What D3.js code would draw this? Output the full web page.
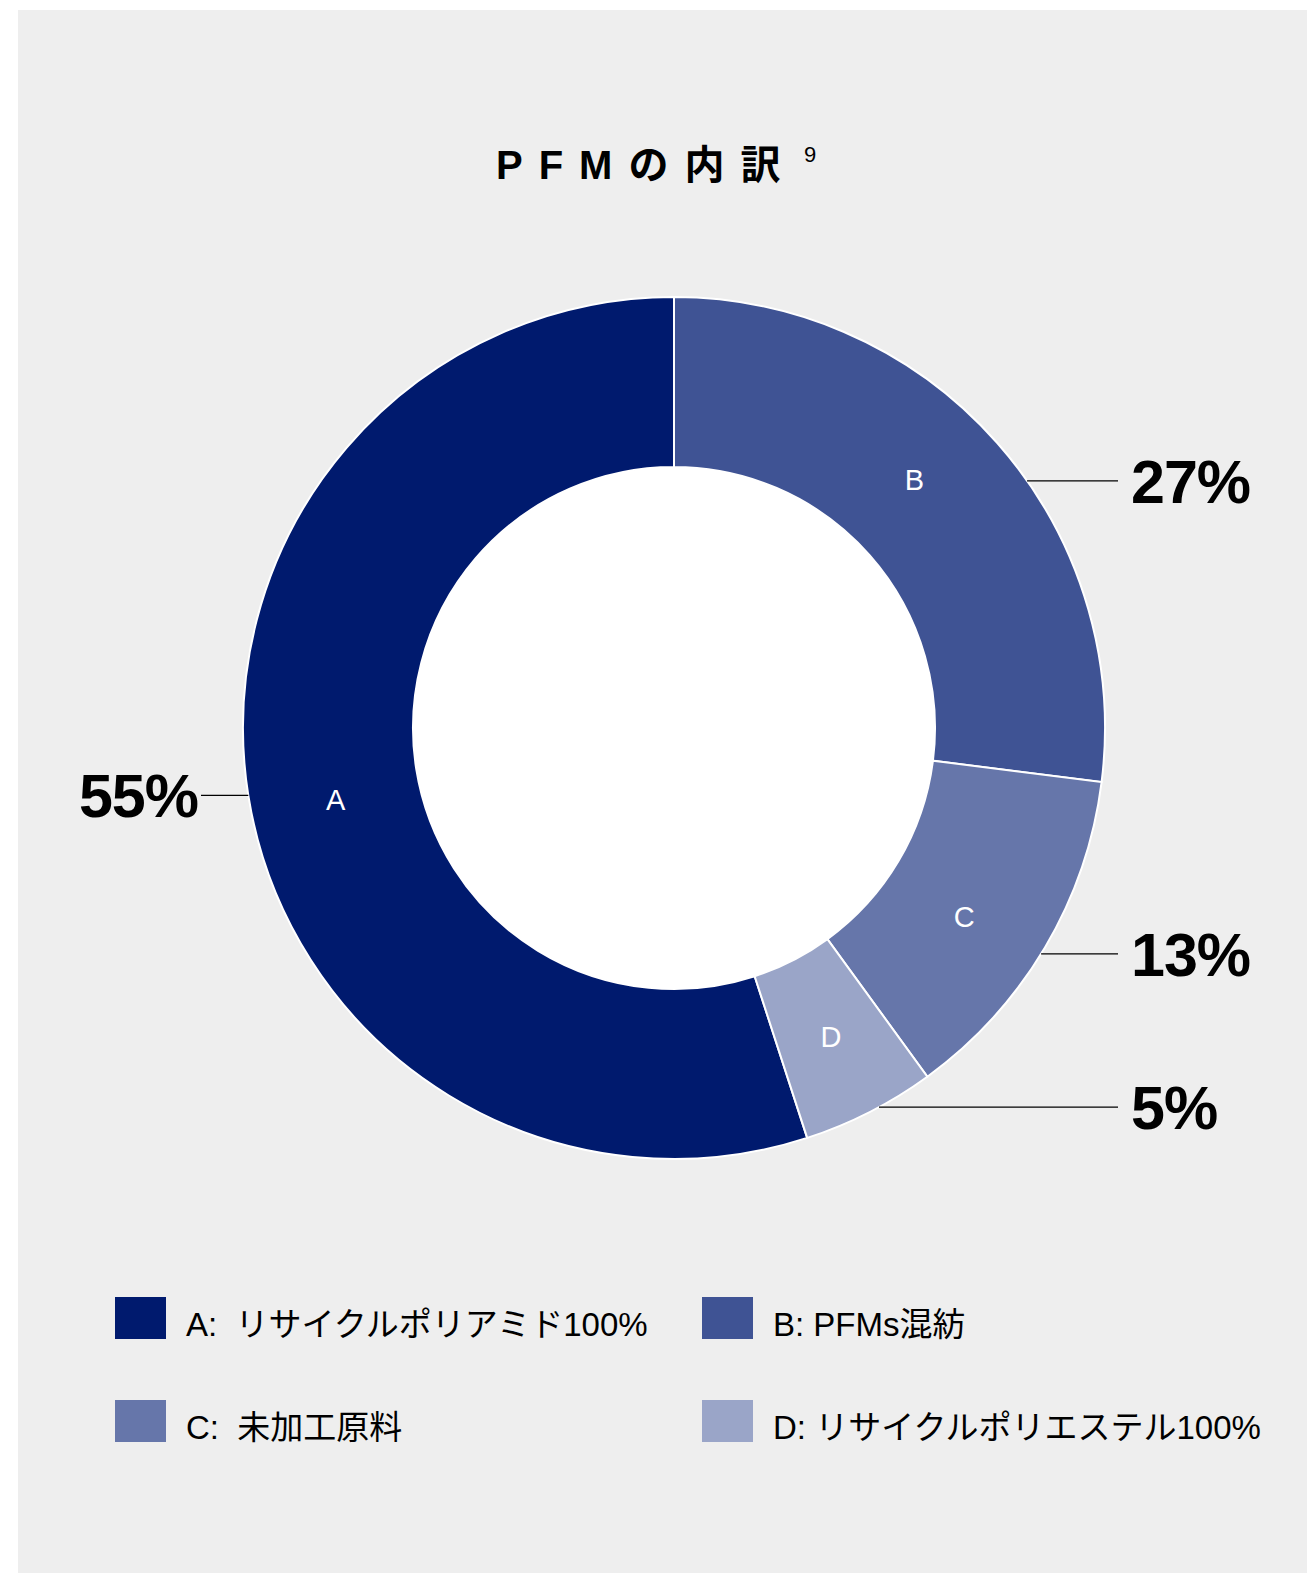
<!DOCTYPE html>
<html>
<head>
<meta charset="utf-8">
<script src="https://cdn.jsdelivr.net/npm/d3@7"></script>
<style>
  body { margin: 0; background: #fff; }
  text { white-space: pre; }
</style>
</head>
<body>
<div id="chart"></div>
<script>
// data
const categories = ["A", "B", "C", "D"];
const shares = [55, 27, 13, 5];
const legendNames = ["A:  リサイクルポリアミド100%", "B: PFMs混紡", "C:  未加工原料", "D: リサイクルポリエステル100%"];
const colors = ["#001a6e", "#3f5394", "#6676aa", "#9aa5c8"];
const title = "PFMの内訳";
const footnote = "9";

const width = 1307, height = 1573;
const cx = 674, cy = 728, outerR = 431, innerR = 261;

const svg = d3.select("#chart").append("svg")
    .attr("width", width)
    .attr("height", height);

svg.append("rect")
    .attr("x", 18).attr("y", 10)
    .attr("width", width - 18).attr("height", height - 10)
    .attr("fill", "#eeeeee");

// title
svg.append("text")
    .attr("x", 496).attr("y", 179)
    .attr("font-family", "'Liberation Sans', 'Noto Sans CJK JP', sans-serif")
    .attr("font-weight", "bold")
    .attr("font-size", 40)
    .attr("letter-spacing", 16)
    .attr("fill", "#000")
    .text(title);
svg.append("text")
    .attr("x", 804).attr("y", 162)
    .attr("font-family", "'Liberation Sans', sans-serif")
    .attr("font-size", 22)
    .attr("fill", "#000")
    .text(footnote);

// pie starts so that B sits at 12 o'clock and A closes the circle
const total = d3.sum(shares);
const start = -2 * Math.PI * shares[0] / total;
const pie = d3.pie().sort(null).value(d => d)
    .startAngle(start).endAngle(start + 2 * Math.PI);
const arcs = pie(shares);

const arc = d3.arc().innerRadius(innerR).outerRadius(outerR);
const g = svg.append("g").attr("transform", `translate(${cx},${cy})`);

g.append("circle").attr("r", innerR).attr("fill", "#fff");

g.selectAll("path.slice")
    .data(arcs)
    .enter().append("path")
    .attr("class", "slice")
    .attr("d", arc)
    .attr("fill", (d, i) => colors[i])
    .attr("stroke", "#fff")
    .attr("stroke-width", 2);

// small nudges so labels sit like the original
const deg = Math.PI / 180;
const labelNudge = { A: -3 * deg, B: -4.6 * deg, C: 2.4 * deg };
const lineNudge = { B: 6.4 * deg, C: 1 * deg, D: -1.4 * deg };
const midR = (innerR + outerR) / 2;

g.selectAll("text.cat")
    .data(arcs)
    .enter().append("text")
    .attr("class", "cat")
    .each(function(d, i) {
        const a = (d.startAngle + d.endAngle) / 2 + (labelNudge[categories[i]] || 0);
        d3.select(this)
            .attr("x", midR * Math.sin(a))
            .attr("y", -midR * Math.cos(a))
    })
    .attr("text-anchor", "middle")
    .attr("dy", "0.36em")
    .attr("font-family", "'Liberation Sans', sans-serif")
    .attr("font-size", 29)
    .attr("fill", "#fff")
    .text((d, i) => categories[i]);

// leader lines + percent labels
arcs.forEach((d, i) => {
    let a = (d.startAngle + d.endAngle) / 2 + (lineNudge[categories[i]] || 0);
    a = ((a % (2 * Math.PI)) + 2 * Math.PI) % (2 * Math.PI);
    const y = -outerR * Math.cos(a);
    const xEdge = outerR * Math.sin(a);
    const right = a < Math.PI;
    const xEnd = right ? 1118 - cx : 201 - cx;
    g.append("line")
        .attr("x1", xEdge).attr("y1", y)
        .attr("x2", xEnd).attr("y2", y)
        .attr("stroke", "#000")
        .attr("stroke-width", 1.2);
    g.append("text")
        .attr("x", right ? 1131 - cx : 198 - cx)
        .attr("y", y)
        .attr("dy", "0.36em")
        .attr("text-anchor", right ? "start" : "end")
        .attr("font-family", "'Liberation Sans', sans-serif")
        .attr("font-weight", "bold")
        .attr("font-size", 61)
        .attr("letter-spacing", -1)
        .attr("fill", "#000")
        .text(shares[i] + "%");
});

// legend
const legend = svg.append("g");
const cols = [115, 702], rows = [1297, 1400];
categories.forEach((c, i) => {
    const x = cols[i % 2], y = rows[Math.floor(i / 2)];
    legend.append("rect")
        .attr("x", x).attr("y", y)
        .attr("width", 51).attr("height", 42)
        .attr("fill", colors[i]);
    legend.append("text")
        .attr("x", x + 71).attr("y", y + 39)
        .attr("font-family", "'Liberation Sans', 'Noto Sans CJK JP', sans-serif")
        .attr("font-size", 33)
        .attr("fill", "#000")
        .text(legendNames[i]);
});
</script>
</body>
</html>
